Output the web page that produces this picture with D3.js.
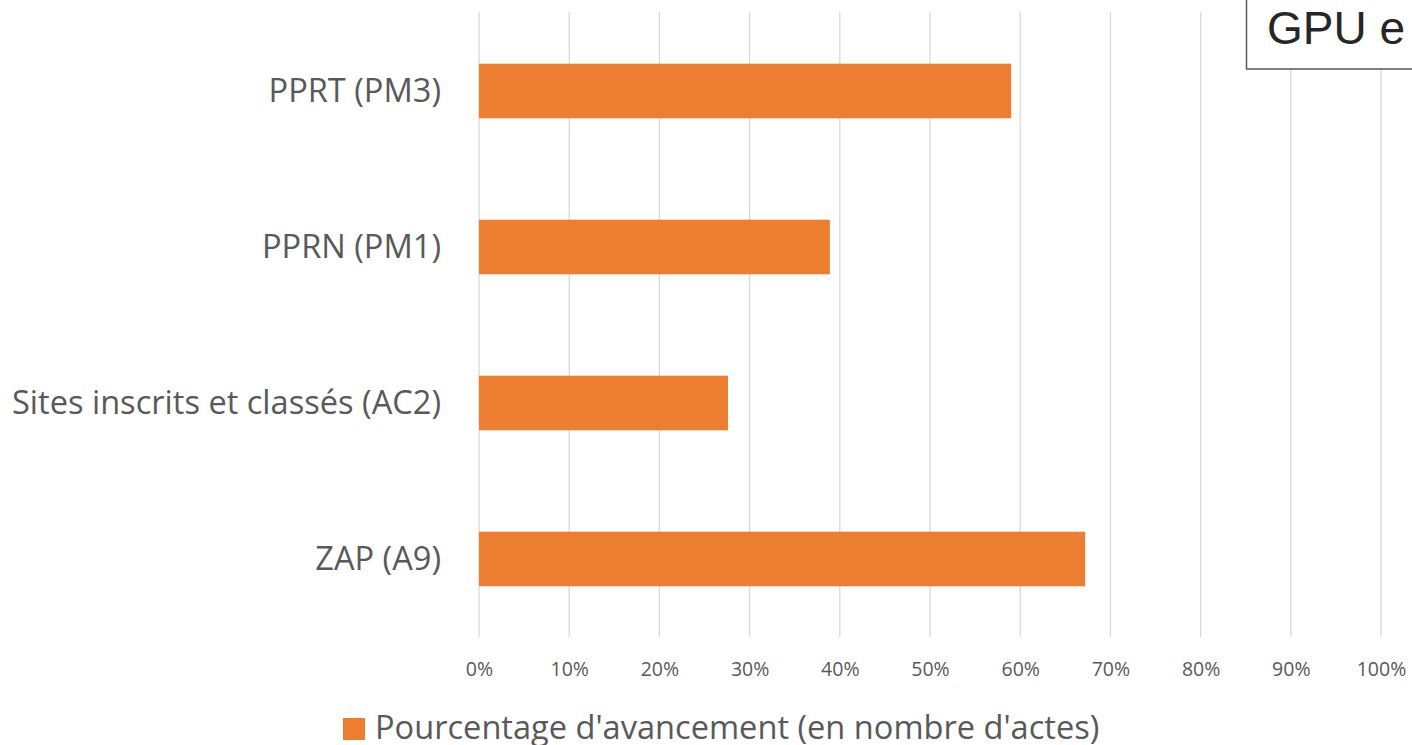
<!DOCTYPE html>
<html>
<head>
<meta charset="utf-8">
<script src="https://cdn.jsdelivr.net/npm/d3@7"></script>
<style>
  body { margin: 0; background: #fff; }
  svg { display: block; }
</style>
</head>
<body>
<svg id="chart"></svg>
<script>
// données
var categories = ["PPRT (PM3)", "PPRN (PM1)", "Sites inscrits et classés (AC2)", "ZAP (A9)"]
var valeurs = [0.59, 0.389, 0.276, 0.672]
var ticks = [0, 0.1, 0.2, 0.3, 0.4, 0.5, 0.6, 0.7, 0.8, 0.9, 1]
var serieNom = "Pourcentage d'avancement (en nombre d'actes)"
var titre = "GPU e"

var W = 1412, H = 745
var orange = "#ED7D31"
var gris = "#595959"
var police = '"Open Sans", sans-serif'

var svg = d3.select('#chart')
  .attr('width', W)
  .attr('height', H)

// échelles
var x = d3.scaleLinear()
  .domain([0, 1])
  .range([479, 1381])

var y = d3.scaleBand()
  .domain(categories)
  .range([13, 637])
  .paddingInner(0.65)
  .paddingOuter(0.325)

// grille verticale
svg.append('g')
  .selectAll('line')
  .data(ticks)
  .enter()
  .append('line')
  .attr('x1', d => x(d))
  .attr('x2', d => x(d))
  .attr('y1', 12)
  .attr('y2', 637)
  .attr('stroke', '#d9d9d9')
  .attr('stroke-width', 1.3)

// barres
svg.append('g')
  .selectAll('rect')
  .data(valeurs)
  .enter()
  .append('rect')
  .attr('x', x(0))
  .attr('y', (d, i) => y(categories[i]))
  .attr('width', d => x(d) - x(0))
  .attr('height', y.bandwidth())
  .attr('fill', orange)

// axe x (étiquettes seulement)
var xAxis = d3.axisBottom(x)
  .tickValues(ticks)
  .tickFormat(d3.format('.0%'))
  .tickSize(0)
  .tickPadding(0)

var gx = svg.append('g')
  .attr('transform', 'translate(0,662)')
  .call(xAxis)
gx.select('.domain').remove()
gx.selectAll('text')
  .attr('fill', gris)
  .style('font-family', police)
  .style('font-size', '19.5px')

// axe y (catégories)
var yAxis = d3.axisLeft(y)
  .tickSize(0)
  .tickPadding(38)

var gy = svg.append('g')
  .attr('transform', `translate(${x(0)},0)`)
  .call(yAxis)
gy.select('.domain').remove()
gy.selectAll('text')
  .attr('fill', gris)
  .attr('dy', '0.33em')
  .style('font-family', police)
  .style('font-size', '32.6px')

// légende
svg.append('rect')
  .attr('x', 343)
  .attr('y', 718)
  .attr('width', 22)
  .attr('height', 22)
  .attr('fill', orange)

svg.append('text')
  .attr('x', 375)
  .attr('y', 739)
  .attr('fill', gris)
  .style('font-family', police)
  .style('font-size', '32.6px')
  .text(serieNom)

// cadre du titre (coupé à droite)
svg.append('rect')
  .attr('x', 1246.5)
  .attr('y', -5)
  .attr('width', 200)
  .attr('height', 74)
  .attr('fill', '#fff')
  .attr('stroke', gris)
  .attr('stroke-width', 1.5)

svg.append('text')
  .attr('x', 1267)
  .attr('y', 44)
  .attr('fill', '#262626')
  .style('font-family', '"Liberation Sans", Arial, sans-serif')
  .style('font-size', '46px')
  .text(titre)
</script>
</body>
</html>
